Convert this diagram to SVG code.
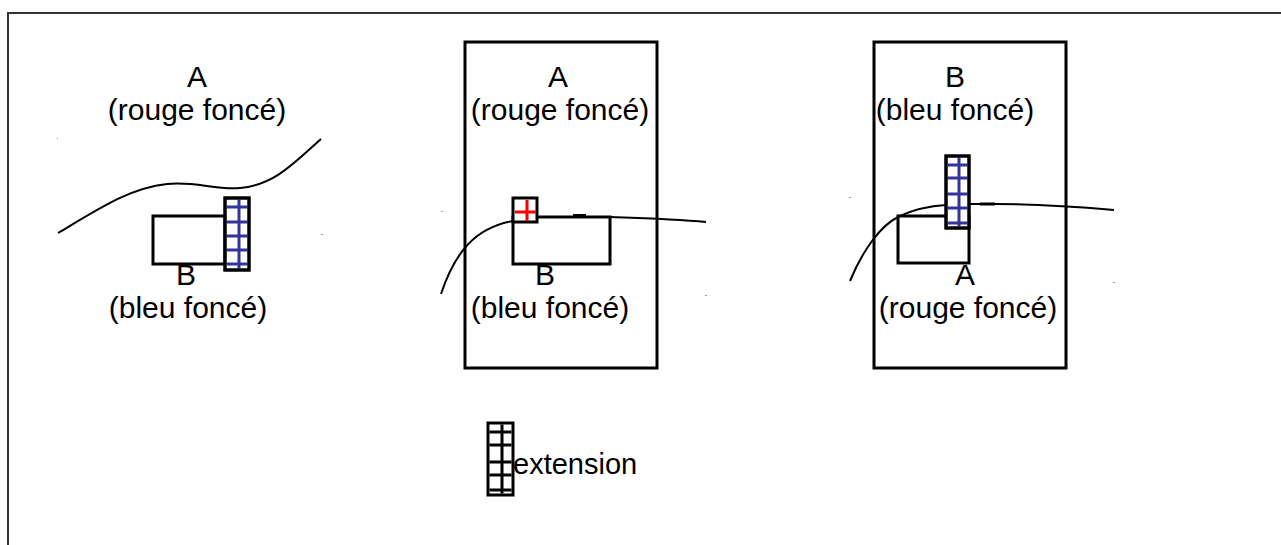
<svg xmlns="http://www.w3.org/2000/svg" width="1281" height="545" viewBox="0 0 1281 545">
<style>
.t{font-family:"Liberation Sans",Arial,sans-serif;font-size:30px;fill:#000;text-anchor:middle}
.box{fill:#fff;stroke:#000;stroke-width:3}
.bl{stroke:#333399;stroke-width:3;fill:none}
.kl{stroke:#000;stroke-width:3;fill:none}
.cv{fill:none;stroke:#000;stroke-width:2}
.dot{fill:#999}
</style>
<rect width="1281" height="545" fill="#fff"/>
<path d="M8,545 V13 H1281" fill="none" stroke="#333" stroke-width="2"/>

<g id="panel-left">
<path class="cv" d="M58,233 C100,208 130,188 167,184 C195,181 215,190 240,188 C275,185 295,162 321,139"/>
<rect class="box" x="153" y="216" width="72" height="48"/>
<g id="ext-left">
<rect class="box" x="225" y="198" width="24" height="72"/>
<path class="bl" d="M239,199.5 V268.5 M226.5,207 H247.5 M226.5,222 H247.5 M226.5,236 H247.5 M226.5,250 H247.5 M226.5,264 H247.5"/>
<rect x="225" y="198" width="24" height="72" fill="none" stroke="#000" stroke-width="3"/>
</g>
<text class="t" x="197" y="87">A</text>
<text class="t" x="197" y="120">(rouge foncé)</text>
<text class="t" x="186" y="285">B</text>
<text class="t" x="188" y="318">(bleu foncé)</text>
<rect class="dot" x="57" y="138" width="1" height="1"/>
<rect class="dot" x="321" y="234" width="2" height="1"/>
</g>

<g id="panel-middle">
<rect class="box" x="465" y="42" width="192" height="326"/>
<path class="cv" d="M441,294 C455,252 475,228 513,221"/>
<rect class="box" x="513" y="217" width="97" height="47"/>
<path class="cv" d="M537,217 H610 C640,218 675,219 706,222"/>
<path d="M573,215 H586" stroke="#000" stroke-width="2"/>
<rect class="box" x="513" y="198" width="24" height="24"/>
<path d="M527,200 V221 M515,212 H536" stroke="#ff0000" stroke-width="3" fill="none"/>
<text class="t" x="558" y="87">A</text>
<text class="t" x="560" y="120">(rouge foncé)</text>
<text class="t" x="545" y="285">B</text>
<text class="t" x="550" y="318">(bleu foncé)</text>
<rect class="dot" x="441" y="211" width="2" height="1"/>
<rect class="dot" x="705" y="295" width="2" height="1"/>
</g>

<g id="panel-right">
<rect class="box" x="874" y="42" width="192" height="326"/>
<path class="cv" d="M850,281 C862,252 880,225 900,216 C915,209 930,206 946,205"/>
<rect class="box" x="898" y="216" width="71" height="47"/>
<path class="cv" d="M969,204 H995 C1040,204 1080,207 1114,210"/>
<path d="M980,204 H995" stroke="#000" stroke-width="3"/>
<g id="ext-right">
<rect class="box" x="946" y="156" width="23" height="72"/>
<path class="bl" d="M959,157.5 V226.5 M947.5,165 H967.5 M947.5,178 H967.5 M947.5,194 H967.5 M947.5,208 H967.5 M947.5,223 H967.5"/>
<rect x="946" y="156" width="23" height="72" fill="none" stroke="#000" stroke-width="3"/>
</g>
<text class="t" x="955" y="87">B</text>
<text class="t" x="955" y="120">(bleu foncé)</text>
<text class="t" x="965" y="285">A</text>
<text class="t" x="968" y="318">(rouge foncé)</text>
<rect class="dot" x="849" y="197" width="2" height="1"/>
<rect class="dot" x="1113" y="282" width="2" height="1"/>
</g>

<g id="legend">
<rect class="box" x="488" y="423" width="25" height="72"/>
<path class="kl" d="M502,424.5 V493.5 M489.5,432 H511.5 M489.5,445 H511.5 M489.5,462 H511.5 M489.5,475 H511.5 M489.5,490 H511.5"/>
<text x="513" y="474" style="font-family:'Liberation Sans',Arial,sans-serif;font-size:29px">extension</text>
</g>
</svg>
